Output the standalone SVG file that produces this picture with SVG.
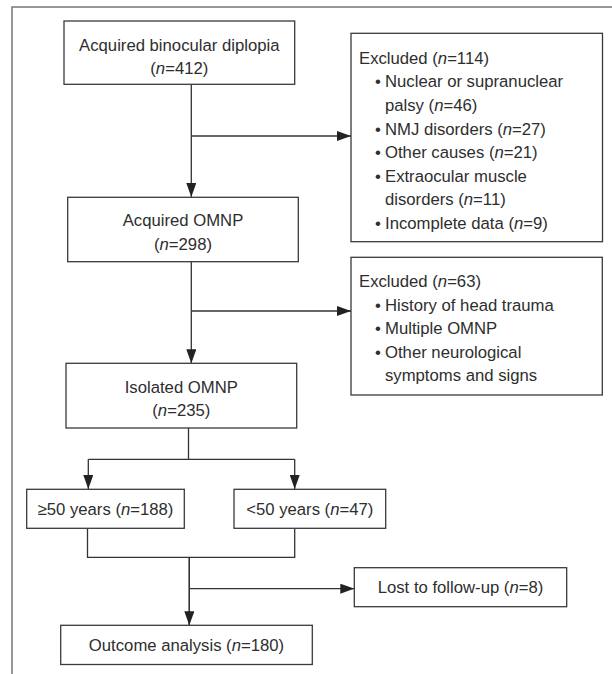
<svg xmlns="http://www.w3.org/2000/svg" width="612" height="674" viewBox="0 0 612 674">
<defs>
<marker id="arr" markerUnits="userSpaceOnUse" markerWidth="14" markerHeight="10" refX="14" refY="5" orient="auto">
<path d="M0,0 L14,5 L0,10 Z" fill="#222"/>
</marker>
<style>
.box{fill:#fff;stroke:#3a3a3a;stroke-width:1.3}
.t{font-family:"Liberation Sans",Arial,sans-serif;font-size:16.7px;fill:#2e2e2e}
.c{text-anchor:middle}
.ln{fill:none;stroke:#333;stroke-width:1.3}
.frame{fill:none;stroke:#777;stroke-width:1.5}
</style>
</defs>
<rect width="612" height="674" fill="#fff"/>
<path class="frame" d="M612,7 H12 V674"/>

<g id="connectors">
<path class="ln" d="M191.3,84 V197" marker-end="url(#arr)"/>
<path class="ln" d="M191.3,136 H351" marker-end="url(#arr)"/>
<path class="ln" d="M191.3,261.7 V363.3" marker-end="url(#arr)"/>
<path class="ln" d="M191.3,311 H351" marker-end="url(#arr)"/>
<path class="ln" d="M188.5,428 V459.3 M88.3,459.3 H294.7"/>
<path class="ln" d="M88.3,459.3 V489" marker-end="url(#arr)"/>
<path class="ln" d="M294.7,459.3 V489" marker-end="url(#arr)"/>
<path class="ln" d="M87.5,528.3 V557.3 H294.7 V528.3 M189.3,557.3 V625.3"/>
<path class="ln" d="M189.3,557.3 V625.3" marker-end="url(#arr)"/>
<path class="ln" d="M189.3,588.7 H354.3" marker-end="url(#arr)"/>
</g>

<g id="n1">
<rect class="box" x="64" y="21" width="230.7" height="63.3"/>
<text class="t c" x="179.3" y="50.5">Acquired binocular diplopia</text>
<text class="t c" x="179.3" y="74">(<tspan font-style="italic">n</tspan>=412)</text>
</g>

<g id="ex1">
<rect class="box" x="351" y="33.3" width="251.5" height="208.4"/>
<text class="t" x="359" y="63.8">Excluded (<tspan font-style="italic">n</tspan>=114)</text>
<text class="t" x="375" y="87.4">•</text>
<text class="t" x="385" y="87.4">Nuclear or supranuclear</text>
<text class="t" x="385" y="111">palsy (<tspan font-style="italic">n</tspan>=46)</text>
<text class="t" x="375" y="134.6">•</text>
<text class="t" x="385" y="134.6">NMJ disorders (<tspan font-style="italic">n</tspan>=27)</text>
<text class="t" x="375" y="158.2">•</text>
<text class="t" x="385" y="158.2">Other causes (<tspan font-style="italic">n</tspan>=21)</text>
<text class="t" x="375" y="181.8">•</text>
<text class="t" x="385" y="181.8">Extraocular muscle</text>
<text class="t" x="385" y="205.4">disorders (<tspan font-style="italic">n</tspan>=11)</text>
<text class="t" x="375" y="229">•</text>
<text class="t" x="385" y="229">Incomplete data (<tspan font-style="italic">n</tspan>=9)</text>
</g>

<g id="n2">
<rect class="box" x="67.7" y="197.3" width="230.6" height="64.4"/>
<text class="t c" x="183" y="226.3">Acquired OMNP</text>
<text class="t c" x="183" y="249.8">(<tspan font-style="italic">n</tspan>=298)</text>
</g>

<g id="ex2">
<rect class="box" x="351" y="257.3" width="251.3" height="137.7"/>
<text class="t" x="359" y="287">Excluded (<tspan font-style="italic">n</tspan>=63)</text>
<text class="t" x="375" y="310.5">•</text>
<text class="t" x="385" y="310.5">History of head trauma</text>
<text class="t" x="375" y="334">•</text>
<text class="t" x="385" y="334">Multiple OMNP</text>
<text class="t" x="375" y="357.5">•</text>
<text class="t" x="385" y="357.5">Other neurological</text>
<text class="t" x="385" y="381">symptoms and signs</text>
</g>

<g id="n3">
<rect class="box" x="66" y="363.3" width="230.7" height="64.7"/>
<text class="t c" x="181.3" y="392.5">Isolated OMNP</text>
<text class="t c" x="181.3" y="416">(<tspan font-style="italic">n</tspan>=235)</text>
</g>

<g id="n4">
<rect class="box" x="26.7" y="489.3" width="157.6" height="39"/>
<text class="t c" x="105.5" y="514.8">≥50 years (<tspan font-style="italic">n</tspan>=188)</text>
</g>

<g id="n5">
<rect class="box" x="234" y="489.3" width="151.7" height="39"/>
<text class="t c" x="309.8" y="514.8">&lt;50 years (<tspan font-style="italic">n</tspan>=47)</text>
</g>

<g id="n6">
<rect class="box" x="354.3" y="567.7" width="212.4" height="39"/>
<text class="t c" x="460.5" y="593.2">Lost to follow-up (<tspan font-style="italic">n</tspan>=8)</text>
</g>

<g id="n7">
<rect class="box" x="60.7" y="625.3" width="251.6" height="39.2"/>
<text class="t c" x="186.5" y="650.9">Outcome analysis (<tspan font-style="italic">n</tspan>=180)</text>
</g>
</svg>
